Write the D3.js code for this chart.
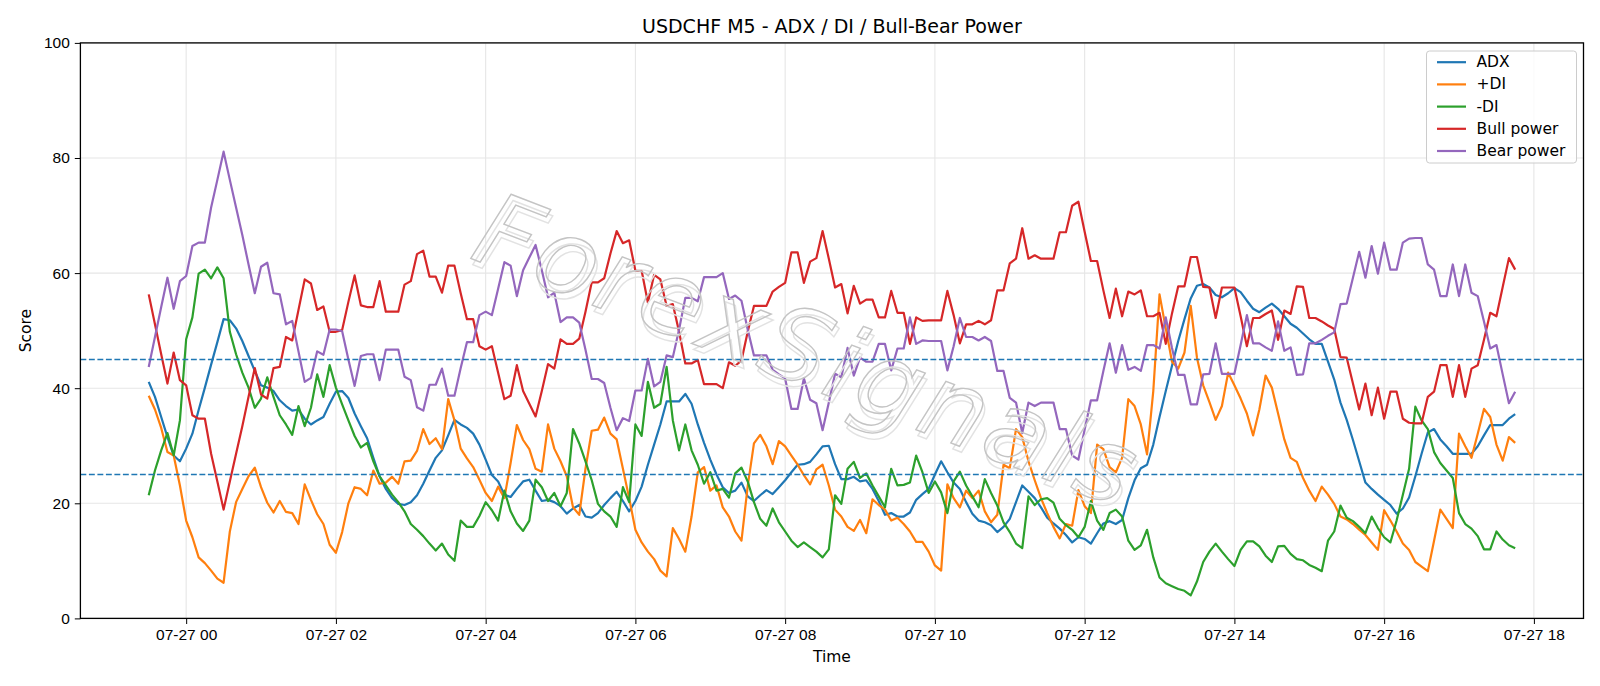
<!DOCTYPE html>
<html lang="en">
<head>
<meta charset="UTF-8">
<title>USDCHF M5 - ADX / DI / Bull-Bear Power</title>
<style>
    body { margin: 0; background: #fff; }
    svg { display: block; font-family: "DejaVu Sans", sans-serif; }
    .axis path, .axis line { stroke: #000; }
    .axis text { font-size: 15.5px; fill: #000; }
    .grid line { stroke: #e6e6e6; stroke-width: 1.1; }
</style>
</head>
<body>
<script src="https://cdn.jsdelivr.net/npm/d3@7"></script>
<script>
// 5-minute bars, 07-26 23:30 -> 07-27 17:45
let startTime = new Date(2024, 6, 26, 23, 30);
let times = d3.range(220).map(i => d3.timeMinute.offset(startTime, i * 5));

let adx = [
    41.1, 38.5, 35, 31.5, 28.3, 27.3, 29.5, 32.1, 36.2, 40.1,
    44.1, 48, 52, 51.8, 50.4, 48.2, 45.6, 43, 40.5, 40.1,
    39.5, 37.9, 36.9, 36.1, 36.3, 34.7, 33.7, 34.4, 35, 37.3,
    39.4, 39.5, 38.3, 35.6, 33.4, 31.3, 27.9, 24.7, 22.5, 20.9,
    19.9, 19.7, 20.2, 21.4, 23.4, 25.7, 27.9, 29.2, 31.8, 34.5,
    33.7, 33.1, 32.1, 30.2, 27.6, 24.9, 23.8, 21.5, 21.1, 22.5,
    23.8, 24.1, 22.2, 20.4, 20.6, 20.2, 19.5, 18.2, 19.1, 19.7,
    17.7, 17.5, 18.3, 19.7, 20.9, 22, 20.4, 18.6, 20.4, 22.9,
    26.7, 30.2, 33.7, 37.7, 37.7, 37.7, 39, 37.3, 33.7, 30.5,
    27.6, 25, 22.8, 21.8, 22.2, 23.6, 21.2, 20.4, 21.4, 22.3,
    21.6, 22.8, 24, 25.4, 26.7, 26.8, 27.2, 28.5, 29.9, 30,
    26.8, 24.2, 24.2, 24.6, 23.8, 24, 22.5, 20.4, 18, 18.3,
    17.7, 17.7, 18.4, 20.6, 21.6, 22.5, 25, 27.3, 25.4, 23.6,
    22.5, 20.2, 18.2, 17, 16.7, 16.2, 15, 15.9, 17.3, 20.2,
    23.1, 22, 20.9, 19.3, 17.5, 16.5, 15.6, 14.5, 13.2, 14.1,
    13.8, 13, 14.8, 16.5, 16.9, 16.4, 17.1, 20.9, 24, 26.1,
    26.7, 30.2, 35, 39.5, 43.9, 48.2, 52, 55.6, 57.8, 58.1,
    57.5, 56.2, 55.8, 56.5, 57.4, 56.7, 55.2, 53.8, 53.2, 54,
    54.7, 53.8, 52.5, 51.2, 50.5, 49.5, 48.5, 47.7, 47.7, 44.6,
    41.5, 37.5, 34.5, 31, 27.3, 23.6, 22.5, 21.5, 20.6, 19.7,
    18.2, 19.1, 21, 24.7, 28.6, 32.3, 32.9, 31.1, 29.9, 28.6,
    28.6, 28.6, 28.6, 29.9, 31.8, 33.6, 33.6, 33.6, 34.7, 35.5
];

let plusDI = [
    38.7, 36.3, 33.1, 28.9, 28.3, 23.1, 17, 14.1, 10.6, 9.6,
    8.3, 6.9, 6.2, 15.1, 20.2, 22.5, 24.7, 26.2, 22.8, 20.1,
    18.4, 20.4, 18.5, 18.3, 16.4, 23.3, 20.6, 18.1, 16.4, 12.8,
    11.4, 15, 20, 22.8, 22.5, 21.4, 25.7, 23.4, 23.6, 24.6,
    23.4, 27.3, 27.4, 29.1, 32.9, 30.3, 31.3, 29.4, 38.1, 34.4,
    29.5, 27.8, 26.3, 24.1, 21.8, 20.4, 22.9, 20.9, 27, 33.6,
    31, 29.4, 26, 25.5, 33.7, 29.5, 27.3, 24.7, 19.3, 18,
    26, 32.6, 32.8, 34.9, 32.1, 31.1, 26, 20.9, 15.4, 13.2,
    11.6, 10.3, 8.3, 7.3, 15.7, 13.8, 11.6, 17.7, 25.4, 26.3,
    22.2, 23.1, 19.3, 17.7, 15.1, 13.5, 23, 30.4, 31.9, 29.9,
    26.8, 30.8, 29.9, 28.3, 26.7, 24.9, 23.3, 25.9, 26.7, 23.1,
    18.9, 17.7, 15.9, 15.2, 17.1, 14.8, 20.7, 19.7, 18.9, 17,
    17.5, 16.4, 15.1, 13.3, 13.3, 11.6, 9.2, 8.3, 23.3, 20.9,
    19.3, 22.2, 20.9, 22.2, 18.6, 16.7, 18, 26.7, 26.1, 32.9,
    31.5, 27.3, 24, 20.9, 18.3, 15.9, 13.9, 16.4, 16.1, 22.3,
    19.5, 18.3, 30.2, 29.4, 26.3, 25.4, 27.9, 38.1, 36.9, 33.7,
    28.5, 39.5, 56.3, 50.4, 44.6, 43.4, 46.2, 54.3, 45.3, 40.5,
    37.6, 34.5, 36.9, 42.7, 40.5, 38.2, 35.6, 31.8, 36.3, 42.2,
    40.1, 35.6, 31.1, 27.9, 27.2, 24.4, 22.2, 20.4, 22.9, 21.5,
    19.9, 17.7, 17.2, 16.4, 15.4, 14.5, 13.2, 11.9, 18.8, 17,
    15.1, 13, 11.9, 9.8, 9, 8.2, 13.5, 18.9, 17.3, 15.7,
    32.1, 29.9, 27.9, 32.1, 36.4, 35, 30.2, 27.4, 31.5, 30.5
];

let minusDI = [
    21.4, 25.7, 29.2, 32.2, 28.3, 34.4, 48.5, 52.3, 59.9, 60.6,
    59.1, 61, 59.1, 49.8, 45.9, 42.7, 40.1, 36.6, 38.2, 41.9,
    38.5, 35.3, 33.7, 31.9, 36.9, 33.4, 36.6, 42.4, 38.5, 44,
    40.1, 37.2, 34.4, 31.7, 29.7, 30.5, 27.3, 24.7, 23.1, 21.5,
    20.2, 18.6, 16.4, 15.4, 14.3, 13, 11.8, 13, 11.1, 10,
    17, 15.9, 15.9, 17.8, 20.2, 18.8, 17, 22.2, 18.6, 16.5,
    15.2, 17, 24.1, 22.8, 20.4, 21.8, 19.5, 21.8, 32.9, 30.4,
    27.3, 24, 19.9, 18.6, 17.7, 15.9, 22.8, 20.2, 33.7, 31.7,
    41.1, 36.6, 37.3, 43.7, 34.4, 29.2, 33.7, 29.2, 26.7, 23.4,
    25.4, 22.2, 22.5, 21, 25.2, 26.2, 23.8, 20.2, 17.3, 16.1,
    19.1, 16.7, 15.1, 13.5, 12.4, 13.2, 12.4, 11.6, 10.6, 12,
    21.4, 19.9, 26, 27.2, 24.4, 25.2, 23.1, 21.2, 19.3, 26,
    23.1, 23.2, 23.6, 28.3, 25.4, 21.8, 23.8, 21.9, 18.3, 23.8,
    25.5, 23.1, 21.2, 19.3, 24.2, 21.8, 19.6, 16.7, 15, 13,
    12.2, 21.2, 19.7, 20.7, 20.9, 20.1, 17.3, 16.2, 15.4, 14.1,
    15.9, 20.4, 17, 15.4, 18.3, 18.9, 17.7, 13.5, 11.9, 12.7,
    15.4, 10.6, 7.1, 6.1, 5.6, 5.1, 4.8, 4, 6.4, 9.8,
    11.6, 13, 11.6, 10.3, 9.1, 11.9, 13.4, 13.4, 12.5, 10.9,
    9.8, 12.5, 12.6, 11.2, 10.3, 10.1, 9.3, 8.8, 8.2, 13.5,
    15.1, 19.6, 17.5, 16.9, 15.9, 14.8, 17.7, 15.7, 14.1, 13.2,
    17, 21.5, 26, 36.8, 34.4, 32.9, 28.9, 27, 25.7, 24.4,
    18.3, 16.4, 15.6, 14.3, 12, 12, 15.1, 13.7, 12.7, 12.2
];

let bullPower = [
    56.3, 51.1, 45.9, 40.8, 46.2, 41.4, 40.5, 35.3, 34.7, 34.7,
    28.6, 23.8, 18.9, 23.8, 28.6, 33.4, 38.5, 43.5, 38.9, 38.2,
    43.5, 43.7, 48.9, 48.3, 53.6, 58.9, 58.2, 53.6, 54.2, 49.8,
    49.8, 50.1, 55, 59.6, 54.4, 54.1, 54.1, 58.6, 53.3, 53.3,
    53.3, 58, 58.6, 63.3, 63.9, 59.4, 59.4, 56.6, 61.3, 61.3,
    56.5, 52, 52, 47.3, 46.7, 47.3, 42.7, 38.1, 38.7, 44,
    39.5, 37.3, 35.1, 39.5, 44.2, 43.4, 48.5, 47.7, 47.7, 48.6,
    53.3, 58.4, 58.4, 59.1, 63.4, 67.3, 65.2, 65.7, 60.4, 60.4,
    54.9, 59.7, 58.9, 54.3, 54.6, 49.8, 44.3, 44.3, 44.9, 40.7,
    40.7, 40.7, 40, 44.5, 43.9, 44.8, 49.8, 54.3, 54.3, 54.3,
    56.8, 57.6, 58.3, 63.6, 63.6, 58.3, 62, 62.6, 67.3, 62.5,
    57.5, 58.1, 53, 57.8, 54.7, 55.4, 55.4, 52.3, 52.3, 56.9,
    53.1, 53.1, 47.7, 52.3, 51.7, 51.8, 51.8, 51.8, 56.9, 52.7,
    47.8, 51.1, 51.1, 51.7, 51.1, 51.8, 57, 57, 61.7, 62.5,
    67.8, 62.5, 63.1, 62.5, 62.5, 62.5, 67.1, 67.1, 71.7, 72.4,
    67.2, 62.1, 62.1, 57, 52.2, 57.3, 52.5, 56.8, 56.3, 57,
    52.5, 52.5, 53.1, 47.7, 53, 57.7, 57.7, 62.8, 62.8, 57.6,
    57.5, 52.2, 57.5, 57.5, 57.5, 52.5, 47.3, 52.2, 52.2, 52.9,
    53.5, 48.4, 53.5, 52.9, 57.7, 57.6, 52.2, 52.2, 51.6, 50.9,
    50.3, 45.4, 45.3, 40.8, 36.3, 40.8, 35.3, 40.1, 34.7, 39.4,
    39.4, 34.7, 34, 33.9, 33.9, 38.5, 39.4, 44, 44, 38.5,
    44, 38.5, 43.4, 44, 48.4, 53.1, 52.5, 57.6, 62.6, 60.6
];

let bearPower = [
    43.7, 48.9, 54.1, 59.2, 53.8, 58.6, 59.5, 64.7, 65.3, 65.3,
    71.4, 76.2, 81.1, 76.2, 71.4, 66.6, 61.5, 56.5, 61.1, 61.8,
    56.5, 56.3, 51.1, 51.7, 46.4, 41.1, 41.8, 46.4, 45.8, 50.2,
    50.2, 49.9, 45, 40.4, 45.6, 45.9, 45.9, 41.4, 46.7, 46.7,
    46.7, 42, 41.4, 36.7, 36.1, 40.6, 40.6, 43.4, 38.7, 38.7,
    43.5, 48, 48, 52.7, 53.3, 52.7, 57.3, 61.9, 61.3, 56,
    60.5, 62.7, 64.9, 60.5, 55.8, 56.6, 51.5, 52.3, 52.3, 51.4,
    46.7, 41.6, 41.6, 40.9, 36.6, 32.7, 34.8, 34.3, 39.6, 39.6,
    45.1, 40.3, 41.1, 45.7, 45.4, 50.2, 55.7, 55.7, 55.1, 59.3,
    59.3, 59.3, 60, 55.5, 56.1, 55.2, 50.2, 45.7, 45.7, 45.7,
    43.2, 42.4, 41.7, 36.4, 36.4, 41.7, 38, 37.4, 32.7, 37.5,
    42.5, 41.9, 47, 42.2, 45.3, 44.6, 44.6, 47.7, 47.7, 43.1,
    46.9, 46.9, 52.3, 47.7, 48.3, 48.2, 48.2, 48.2, 43.1, 47.3,
    52.2, 48.9, 48.9, 48.3, 48.9, 48.2, 43, 43, 38.3, 37.5,
    32.2, 37.5, 36.9, 37.5, 37.5, 37.5, 32.9, 32.9, 28.3, 27.6,
    32.8, 37.9, 37.9, 43, 47.8, 42.7, 47.5, 43.2, 43.7, 43,
    47.5, 47.5, 46.9, 52.3, 47, 42.3, 42.3, 37.2, 37.2, 42.4,
    42.5, 47.8, 42.5, 42.5, 42.5, 47.5, 52.7, 47.8, 47.8, 47.1,
    46.5, 51.6, 46.5, 47.1, 42.3, 42.4, 47.8, 47.8, 48.4, 49.1,
    49.7, 54.6, 54.7, 59.2, 63.7, 59.2, 64.7, 59.9, 65.3, 60.6,
    60.6, 65.3, 66, 66.1, 66.1, 61.5, 60.6, 56, 56, 61.5,
    56, 61.5, 56.6, 56, 51.6, 46.9, 47.5, 42.4, 37.4, 39.4
];

let seriesNames = ['ADX', '+DI', '-DI', 'Bull power', 'Bear power'];
let seriesValues = [adx, plusDI, minusDI, bullPower, bearPower];
let seriesColors = ['#1f77b4', '#ff7f0e', '#2ca02c', '#d62728', '#9467bd'];
let levels = [45, 25];
let yTicks = [0, 20, 40, 60, 80, 100];

let width = 1600, height = 686;
let plotLeft = 80.4, plotRight = 1583.5, plotTop = 42.9, plotBottom = 618.4;

let svg = d3.select('body').append('svg')
    .attr('width', width)
    .attr('height', height);

// matplotlib-style 5% margin on the time axis
let t0 = +times[0], t1 = +times[times.length - 1];
let pad = (t1 - t0) * 0.05;
let x = d3.scaleTime()
    .domain([new Date(t0 - pad), new Date(t1 + pad)])
    .range([plotLeft, plotRight]);
let y = d3.scaleLinear().domain([0, 100]).range([plotBottom, plotTop]);

let xTickVals = d3.timeHour.every(2).range(new Date(t0 - pad), new Date(t1 + pad));

// grid
let grid = svg.append('g').attr('class', 'grid');
grid.selectAll('.gx').data(xTickVals).enter().append('line')
    .attr('x1', d => x(d)).attr('x2', d => x(d))
    .attr('y1', plotTop).attr('y2', plotBottom);
grid.selectAll('.gy').data(yTicks).enter().append('line')
    .attr('x1', plotLeft).attr('x2', plotRight)
    .attr('y1', d => y(d)).attr('y2', d => y(d));

// series
let line = d3.line()
    .x((d, i) => x(times[i]))
    .y(d => y(d));

svg.selectAll('.series')
    .data(seriesValues)
    .enter()
    .append('path')
    .attr('class', 'series')
    .attr('fill', 'none')
    .attr('stroke', (d, i) => seriesColors[i])
    .attr('stroke-width', 2.2)
    .attr('stroke-linejoin', 'round')
    .attr('d', d => line(d));

// threshold lines
svg.selectAll('.level')
    .data(levels)
    .enter()
    .append('line')
    .attr('x1', plotLeft).attr('x2', plotRight)
    .attr('y1', d => y(d)).attr('y2', d => y(d))
    .attr('stroke', '#1f77b4')
    .attr('stroke-width', 1.6)
    .attr('stroke-dasharray', '5.9 2.6');

// watermark
let wm = svg.append('g')
    .attr('transform', 'translate(808, 350) rotate(21)');
wm.append('text')
    .attr('x', 4).attr('y', 5)
    .attr('text-anchor', 'middle')
    .attr('dominant-baseline', 'central')
    .style('font-size', '102px')
    .style('font-style', 'italic')
    .style('letter-spacing', '4px')
    .attr('fill', 'none')
    .attr('stroke', '#e2e2e2')
    .attr('stroke-width', 1.4)
    .text('ForexSignals');
wm.append('text')
    .attr('text-anchor', 'middle')
    .attr('dominant-baseline', 'central')
    .style('font-size', '102px')
    .style('font-style', 'italic')
    .style('letter-spacing', '4px')
    .attr('fill', 'none')
    .attr('stroke', '#c4c4c4')
    .attr('stroke-width', 1.4)
    .text('ForexSignals');

// axes
let xAxis = d3.axisBottom(x)
    .tickValues(xTickVals)
    .tickFormat(d3.timeFormat('%m-%d %H'))
    .tickSize(5.6)
    .tickPadding(5);
svg.append('g')
    .attr('class', 'axis')
    .attr('transform', `translate(0, ${plotBottom})`)
    .call(xAxis)
    .call(g => g.select('.domain').remove());

let yAxis = d3.axisLeft(y)
    .tickValues(yTicks)
    .tickSize(5.6)
    .tickPadding(5);
svg.append('g')
    .attr('class', 'axis')
    .attr('transform', `translate(${plotLeft}, 0)`)
    .call(yAxis)
    .call(g => g.select('.domain').remove());

// frame
svg.append('rect')
    .attr('x', plotLeft).attr('y', plotTop)
    .attr('width', plotRight - plotLeft).attr('height', plotBottom - plotTop)
    .attr('fill', 'none')
    .attr('stroke', '#000')
    .attr('stroke-width', 1.3);

// labels
svg.append('text')
    .attr('x', (plotLeft + plotRight) / 2).attr('y', 25.5)
    .attr('text-anchor', 'middle')
    .attr('dominant-baseline', 'central')
    .style('font-size', '19px')
    .text('USDCHF M5 - ADX / DI / Bull-Bear Power');

svg.append('text')
    .attr('x', (plotLeft + plotRight) / 2).attr('y', 657)
    .attr('text-anchor', 'middle')
    .attr('dominant-baseline', 'central')
    .style('font-size', '15.5px')
    .text('Time');

svg.append('text')
    .attr('transform', `translate(25.5, ${(plotTop + plotBottom) / 2}) rotate(-90)`)
    .attr('text-anchor', 'middle')
    .attr('dominant-baseline', 'central')
    .style('font-size', '15.5px')
    .text('Score');

// legend
let legend = svg.append('g').attr('transform', 'translate(1426.5, 51)');
legend.append('rect')
    .attr('width', 150).attr('height', 112)
    .attr('rx', 3)
    .attr('fill', 'rgba(255,255,255,0.8)')
    .attr('stroke', '#cccccc');
let items = legend.selectAll('.item')
    .data(seriesNames)
    .enter()
    .append('g')
    .attr('transform', (d, i) => `translate(0, ${11.2 + i * 22.2})`);
items.append('line')
    .attr('x1', 10.5).attr('x2', 39.5)
    .attr('stroke', (d, i) => seriesColors[i])
    .attr('stroke-width', 2.2);
items.append('text')
    .attr('x', 50)
    .attr('dominant-baseline', 'central')
    .style('font-size', '15.5px')
    .text(d => d);
</script>
</body>
</html>
